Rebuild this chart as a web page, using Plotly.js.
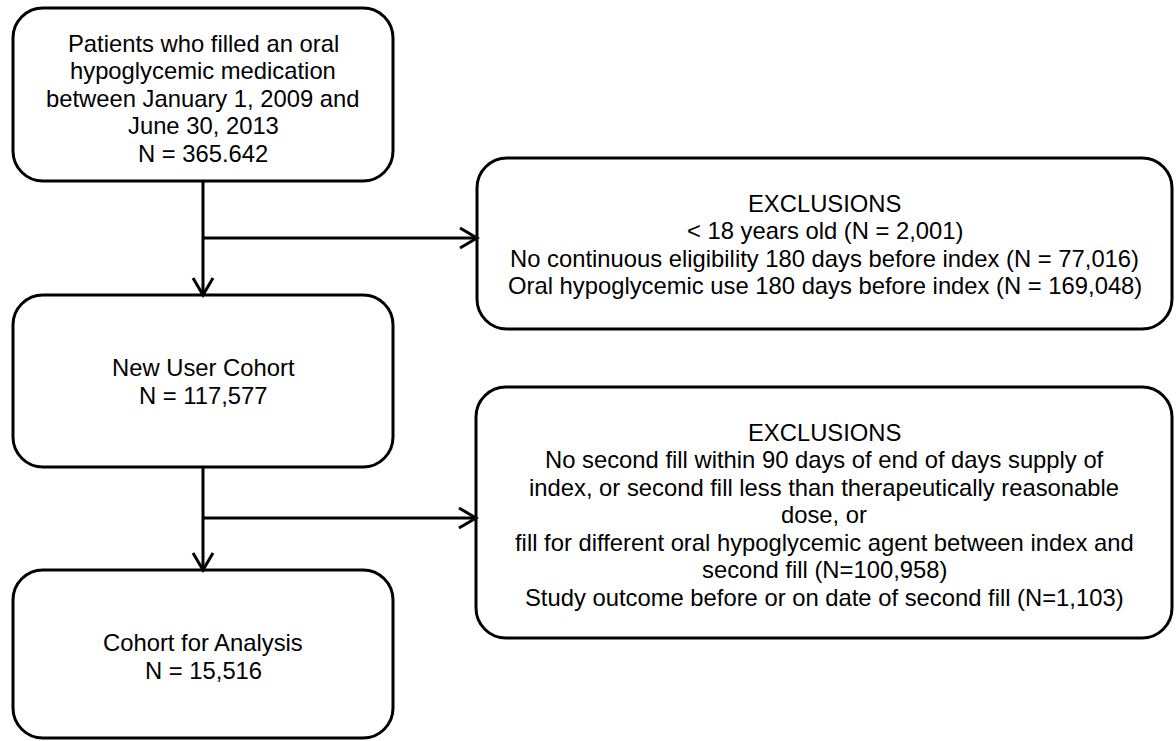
<!DOCTYPE html>
<html>
<head>
<meta charset="utf-8">
<script src="https://cdn.plot.ly/plotly-3.0.1.min.js"></script>
<style>
html,body{margin:0;padding:0;background:#fff;}
#chart{width:1176px;height:741px;}
</style>
</head>
<body>
<div id="chart"></div>
<script>
// ---- Content (text of each box, one entry per line) ----
const startLines = [
  "Patients who filled an oral",
  "hypoglycemic medication",
  "between January 1, 2009 and",
  "June 30, 2013",
  "N = 365.642"
];
const exclusion1Lines = [
  "EXCLUSIONS",
  "< 18 years old (N = 2,001)",
  "No continuous eligibility 180 days before index (N = 77,016)",
  "Oral hypoglycemic use 180 days before index (N = 169,048)"
];
const cohortLines = [
  "New User Cohort",
  "N = 117,577"
];
const exclusion2Lines = [
  "EXCLUSIONS",
  "No second fill within 90 days of end of days supply of",
  "index, or second fill less than therapeutically reasonable",
  "dose, or",
  "fill for different oral hypoglycemic agent between index and",
  "second fill (N=100,958)",
  "Study outcome before or on date of second fill (N=1,103)"
];
const analysisLines = [
  "Cohort for Analysis",
  "N = 15,516"
];

// ---- Layout geometry (pixel space of the page) ----
const W = 1176, H = 741;
const LINE_GAP = 27.5;
const FONT_SIZE = 23.8;
const boxes = [
  {lines: startLines,      x0: 13,  y0: 8,   x1: 393,  y1: 181, cy: 98},
  {lines: exclusion1Lines, x0: 477, y0: 158, x1: 1172, y1: 329, cy: 244.5},
  {lines: cohortLines,     x0: 13,  y0: 295, x1: 393,  y1: 467, cy: 381.5},
  {lines: exclusion2Lines, x0: 476, y0: 387, x1: 1172, y1: 638, cy: 514.5},
  {lines: analysisLines,   x0: 13,  y0: 570, x1: 393,  y1: 738, cy: 656.5}
];
const RADIUS = 30;
const STROKE = 3;
const trunkX = 203;
const connectors = [
  {from: 0, to: 2, side: 1, branchY: 238},
  {from: 2, to: 4, side: 3, branchY: 518}
];

function roundRect(x0, y0, x1, y1, r) {
  const k = r * 0.5523;
  return `M ${x0 + r},${y0} L ${x1 - r},${y0} ` +
    `C ${x1 - r + k},${y0} ${x1},${y0 + r - k} ${x1},${y0 + r} ` +
    `L ${x1},${y1 - r} ` +
    `C ${x1},${y1 - r + k} ${x1 - r + k},${y1} ${x1 - r},${y1} ` +
    `L ${x0 + r},${y1} ` +
    `C ${x0 + r - k},${y1} ${x0},${y1 - r + k} ${x0},${y1 - r} ` +
    `L ${x0},${y0 + r} ` +
    `C ${x0},${y0 + r - k} ${x0 + r - k},${y0} ${x0 + r},${y0} Z`;
}

const shapes = [];
const annotations = [];
const lineStyle = {color: '#000', width: STROKE};

boxes.forEach(b => {
  shapes.push({type: 'path', xref: 'x', yref: 'y', path: roundRect(b.x0, b.y0, b.x1, b.y1, RADIUS),
    line: lineStyle, fillcolor: 'rgba(0,0,0,0)'});
  const n = b.lines.length;
  const cx = (b.x0 + b.x1) / 2;
  b.lines.forEach((t, i) => {
    annotations.push({
      xref: 'x', yref: 'y', x: cx, y: b.cy + (i - (n - 1) / 2) * LINE_GAP,
      text: t, showarrow: false, xanchor: 'center', yanchor: 'middle',
      font: {family: 'Arial, "Liberation Sans", sans-serif', size: FONT_SIZE, color: '#000'},
      borderpad: 0
    });
  });
});

const AH_LEN = 17, AH_HALF = 10;
connectors.forEach(c => {
  const a = boxes[c.from], b = boxes[c.to], s = boxes[c.side];
  shapes.push({type: 'line', xref: 'x', yref: 'y', x0: trunkX, y0: a.y1, x1: trunkX, y1: b.y0, line: lineStyle});
  shapes.push({type: 'path', xref: 'x', yref: 'y',
    path: `M ${trunkX - AH_HALF},${b.y0 - AH_LEN} L ${trunkX},${b.y0} L ${trunkX + AH_HALF},${b.y0 - AH_LEN}`,
    line: lineStyle});
  shapes.push({type: 'line', xref: 'x', yref: 'y', x0: trunkX, y0: c.branchY, x1: s.x0, y1: c.branchY, line: lineStyle});
  shapes.push({type: 'path', xref: 'x', yref: 'y',
    path: `M ${s.x0 - AH_LEN},${c.branchY - AH_HALF} L ${s.x0},${c.branchY} L ${s.x0 - AH_LEN},${c.branchY + AH_HALF}`,
    line: lineStyle});
});

const layout = {
  width: W, height: H,
  margin: {l: 0, r: 0, t: 0, b: 0},
  paper_bgcolor: '#fff', plot_bgcolor: '#fff',
  xaxis: {range: [0, W], visible: false, fixedrange: true},
  yaxis: {range: [H, 0], visible: false, fixedrange: true},
  showlegend: false,
  shapes: shapes,
  annotations: annotations
};

Plotly.newPlot('chart', [{x: [], y: [], type: 'scatter', hoverinfo: 'skip'}], layout, {staticPlot: true, displayModeBar: false});
</script>
</body>
</html>
